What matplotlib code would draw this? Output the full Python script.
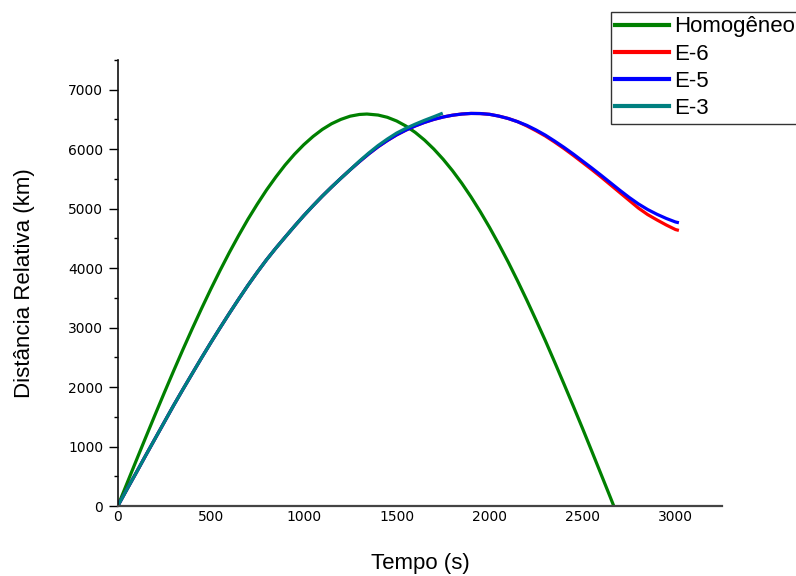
import matplotlib
matplotlib.use("Agg")
import matplotlib.pyplot as plt
from matplotlib.ticker import MultipleLocator

# Tempo (s) e distancia relativa (km) para cada caso
t_homog = [0, 50, 100, 150, 200, 250, 300, 350, 400, 450, 500, 550, 600, 650, 700, 750,
           800, 850, 900, 950, 1000, 1050, 1100, 1150, 1200, 1250, 1300, 1340, 1400,
           1450, 1500, 1550, 1600, 1650, 1700, 1750, 1800, 1850, 1900, 1950, 2000, 2050,
           2100, 2150, 2200, 2250, 2300, 2350, 2400, 2450, 2500, 2550, 2600, 2650, 2668]
d_homog = [0, 386, 771, 1153, 1531, 1904, 2270, 2629, 2978, 3317, 3645, 3960, 4262, 4548,
           4821, 5074, 5313, 5531, 5733, 5913, 6073, 6212, 6331, 6427, 6500, 6554, 6583,
           6590, 6573, 6535, 6473, 6388, 6281, 6152, 6001, 5830, 5639, 5428, 5197, 4948,
           4682, 4399, 4102, 3788, 3462, 3124, 2779, 2419, 2052, 1681, 1304, 919, 531,
           142, 0]

t_e5 = [0, 50, 100, 150, 200, 250, 300, 350, 400, 450, 500, 550, 600, 650, 700, 750, 800,
        850, 900, 950, 1000, 1050, 1100, 1150, 1200, 1250, 1300, 1350, 1400, 1450, 1500,
        1550, 1600, 1650, 1700, 1750, 1800, 1850, 1900, 1950, 2000, 2050, 2100, 2150,
        2200, 2250, 2300, 2350, 2400, 2450, 2500, 2550, 2600, 2650, 2700, 2750, 2800,
        2850, 2900, 2950, 3000, 3010]
d_e5 = [0, 285, 565, 850, 1130, 1410, 1690, 1960, 2225, 2488, 2745, 2995, 3240, 3478,
        3710, 3930, 4140, 4335, 4520, 4703, 4880, 5048, 5210, 5363, 5510, 5653, 5790,
        5920, 6040, 6145, 6240, 6320, 6390, 6450, 6500, 6540, 6570, 6590, 6600, 6598,
        6585, 6555, 6515, 6462, 6400, 6322, 6235, 6135, 6030, 5918, 5800, 5682, 5560,
        5435, 5310, 5190, 5080, 4985, 4905, 4835, 4775, 4768]

# E-6 coincide com E-5 ate ~2150 s
t_e6 = t_e5
d_e6 = d_e5[:44] + [6390, 6308, 6220, 6118, 6010, 5895, 5775, 5655, 5530, 5400, 5270,
                    5140, 5010, 4900, 4810, 4725, 4648, 4640]

t_e3 = t_e5[:26] + [1300, 1350, 1400, 1450, 1500, 1550, 1600, 1650, 1700, 1740]
d_e3 = d_e5[:26] + [5800, 5935, 6060, 6170, 6270, 6350, 6420, 6485, 6545, 6595]

fig = plt.figure(figsize=(7.96, 5.76), dpi=100)
ax = fig.add_axes([0.148, 0.1215, 0.759, 0.7745])

lw = 2.3
ax.plot(t_homog, d_homog, color="#008000", lw=lw, label="Homogêneo")
ax.plot(t_e6, d_e6, color="#ff0000", lw=lw, label="E-6")
ax.plot(t_e5, d_e5, color="#0000ff", lw=lw, label="E-5")
ax.plot(t_e3, d_e3, color="#008080", lw=lw, label="E-3")

ax.set_xlim(0, 3250)
ax.set_ylim(0, 7500)
ax.xaxis.set_major_locator(MultipleLocator(500))
ax.yaxis.set_major_locator(MultipleLocator(1000))
ax.yaxis.set_minor_locator(MultipleLocator(500))

for s in ("top", "right"):
    ax.spines[s].set_visible(False)
ax.spines["left"].set_linewidth(1.2)
ax.spines["left"].set_color("#111111")
ax.spines["bottom"].set_linewidth(1.6)
ax.spines["bottom"].set_color("#444444")

ax.tick_params(axis="y", which="major", length=6.5, width=1.0, pad=4, labelsize=10)
ax.tick_params(axis="y", which="minor", length=3.2, width=1.0)
ax.tick_params(axis="x", which="both", length=0, pad=3, labelsize=10)

ax.set_xlabel("Tempo (s)", fontsize=16, family="Liberation Sans", labelpad=21)
ax.set_ylabel("Distância Relativa (km)", fontsize=16, family="Liberation Sans", labelpad=24)

leg = ax.legend(loc="upper left", bbox_to_anchor=(611 / 796, 1 - 12 / 576),
                bbox_transform=fig.transFigure, frameon=True, fancybox=False,
                prop={"family": "Liberation Sans", "size": 16},
                handlelength=2.4, handletextpad=0.25, labelspacing=0.28,
                borderpad=0.2, borderaxespad=0)
leg.get_frame().set_edgecolor("black")
leg.get_frame().set_linewidth(1.0)
for h in leg.get_lines():
    h.set_linewidth(3)

fig.savefig("out.png", dpi=100)
